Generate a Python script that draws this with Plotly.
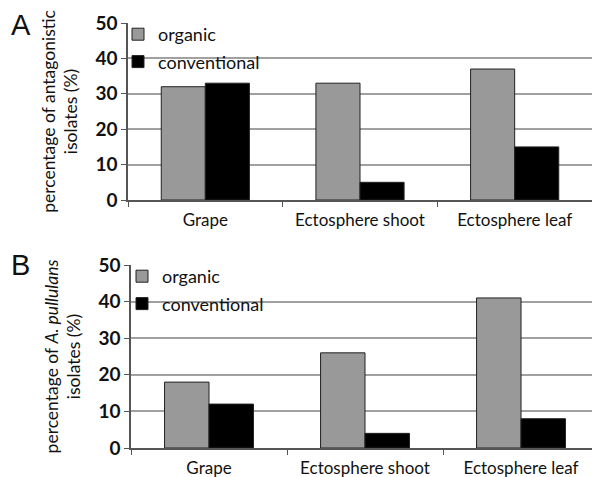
import plotly.graph_objects as go

categories = ["Grape", "Ectosphere shoot", "Ectosphere leaf"]
a_organic = [32, 33, 37]
a_conventional = [33, 5, 15]
b_organic = [18, 26, 41]
b_conventional = [12, 4, 8]
series_names = ["organic", "conventional"]
y_ticks = [0, 10, 20, 30, 40, 50]

W, H = 592, 477
FONT = "Lato"
gray = "#999999"
black = "#000000"
outline = "#222222"

fig = go.Figure()
fig.add_trace(go.Bar(x=categories, y=a_organic, name=series_names[0], legendgroup="ao",
                     marker=dict(color=gray, line=dict(color=outline, width=1)),
                     xaxis="x", yaxis="y", legend="legend"))
fig.add_trace(go.Bar(x=categories, y=a_conventional, name=series_names[1], legendgroup="ac",
                     marker=dict(color=black, line=dict(color=outline, width=1)),
                     xaxis="x", yaxis="y", legend="legend"))
fig.add_trace(go.Bar(x=categories, y=b_organic, name=series_names[0], legendgroup="bo",
                     marker=dict(color=gray, line=dict(color=outline, width=1)),
                     xaxis="x2", yaxis="y2", legend="legend2"))
fig.add_trace(go.Bar(x=categories, y=b_conventional, name=series_names[1], legendgroup="bc",
                     marker=dict(color=black, line=dict(color=outline, width=1)),
                     xaxis="x2", yaxis="y2", legend="legend2"))

def px_y(p):
    return 1 - p / H

def px_x(p):
    return p / W

xcommon = dict(showline=True, linecolor="#555555", linewidth=1.5, ticks="outside", tickson="boundaries",
               ticklen=5, tickcolor="#555555", showgrid=False, automargin=False, ticklabelstandoff=4,
               tickfont=dict(family=FONT, size=17, color="#111111"))
ycommon = dict(range=[0, 50], tickvals=y_ticks, showline=True, linecolor="#555555", linewidth=1.5, ticks="outside",
               ticklen=5, tickcolor="#555555", showgrid=True, gridcolor="#a0a0a0", gridwidth=1.5, automargin=False,
               tickfont=dict(family=FONT, size=19, color="#111111", weight="bold"), zeroline=False)

fig.update_layout(
    width=W, height=H, margin=dict(l=0, r=0, t=0, b=0, pad=0, autoexpand=False),
    paper_bgcolor="white", plot_bgcolor="white",
    barmode="group", bargap=0.43, bargroupgap=0,
    font=dict(family=FONT, size=17, color="#111111"),
    xaxis=dict(domain=[px_x(128), 1], anchor="y", range=[-0.5, 2.5], **xcommon),
    yaxis=dict(domain=[px_y(200), px_y(23)], anchor="x",
               title=dict(text="percentage of antagonistic<br>isolates (%)", font=dict(family=FONT, size=17.5), standoff=13),
               **ycommon),
    xaxis2=dict(domain=[px_x(131), 1], anchor="y2", range=[-0.5, 2.455], **xcommon),
    yaxis2=dict(domain=[px_y(448), px_y(265)], anchor="x2",
                title=dict(text="percentage of <i>A. pullulans</i><br>isolates (%)", font=dict(family=FONT, size=17.5), standoff=13),
                **ycommon),
    legend=dict(x=px_x(118), y=px_y(16), xanchor="left", yanchor="top", bgcolor="rgba(0,0,0,0)",
                font=dict(family=FONT, size=18), itemwidth=30, tracegroupgap=1),
    legend2=dict(x=px_x(122), y=px_y(258), xanchor="left", yanchor="top", bgcolor="rgba(0,0,0,0)",
                 font=dict(family=FONT, size=18), itemwidth=30, tracegroupgap=1),
    annotations=[
        dict(text="A", x=px_x(21), y=px_y(25), xref="paper", yref="paper", showarrow=False,
             xanchor="center", yanchor="middle",
             font=dict(family="Liberation Sans", size=29, color="#111111")),
        dict(text="B", x=px_x(20), y=px_y(265), xref="paper", yref="paper", showarrow=False,
             xanchor="center", yanchor="middle",
             font=dict(family="Liberation Sans", size=29, color="#111111")),
    ],
)

fig.write_html("out.html")
